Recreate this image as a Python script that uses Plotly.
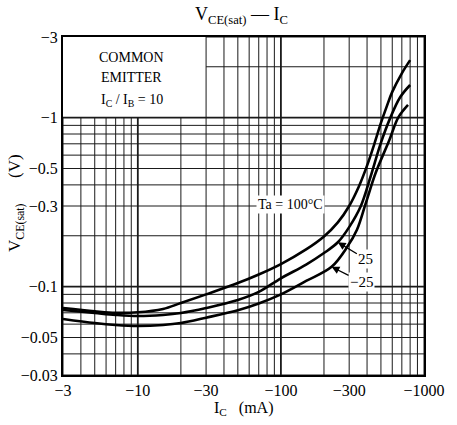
import math
import plotly.graph_objects as go

# ---------------- data (magnitudes; axis labels show negative values) ----------------
ic_100 = [3, 5, 7, 10, 15, 20, 30, 50, 70, 100, 150, 200, 250, 300, 350, 400, 450, 500, 550, 600, 700, 800]
vce_100 = [0.0747, 0.0715, 0.070, 0.0705, 0.0738, 0.080, 0.090, 0.105, 0.118, 0.136, 0.166,
           0.198, 0.240, 0.30, 0.39, 0.52, 0.70, 0.93, 1.17, 1.42, 1.83, 2.19]

ic_25 = [3, 5, 7, 10, 15, 20, 30, 50, 70, 100, 150, 200, 250, 300, 362, 424, 497, 582, 681, 800]
vce_25 = [0.0727, 0.0698, 0.068, 0.067, 0.068, 0.0698, 0.0747, 0.0833, 0.093, 0.112,
          0.135, 0.158, 0.183, 0.225, 0.30, 0.45, 0.70, 1.0, 1.32, 1.56]

ic_m25 = [3, 5, 7, 10, 15, 20, 30, 50, 70, 100, 150, 226, 291, 340, 392, 459, 573, 660, 773]
vce_m25 = [0.0644, 0.0609, 0.0593, 0.0585, 0.0593, 0.0609, 0.0655, 0.0725, 0.0795, 0.090,
           0.108, 0.131, 0.172, 0.217, 0.312, 0.47, 0.737, 1.0, 1.19]

x_ticks = [3, 10, 30, 100, 300, 1000]
x_ticktext = ["\u22123", "\u221210", "\u221230", "\u2212100", "\u2212300", "\u22121000"]
y_ticks = [0.03, 0.05, 0.1, 0.3, 0.5, 1, 3]
y_ticktext = ["\u22120.03", "\u22120.05", "\u22120.1", "\u22120.3", "\u22120.5", "\u22121", "\u22123"]

x_grid = [3, 4, 5, 6, 7, 8, 9, 10, 20, 30, 40, 50, 60, 70, 80, 90, 100,
          200, 300, 400, 500, 600, 700, 800, 900, 1000]
y_grid = [0.03, 0.04, 0.05, 0.06, 0.07, 0.08, 0.09, 0.1, 0.2, 0.3, 0.4, 0.5,
          0.6, 0.7, 0.8, 0.9, 1, 2, 3]

X_MIN, X_MAX = 3, 1000
Y_MIN, Y_MAX = 0.03, 3
BOX_X, BOX_Y = 30, 1   # legend box occupies x<30, y>1
MAJOR_X = (10, 100)
MAJOR_Y = (0.1, 1)

SERIF = "Liberation Serif, Times New Roman, serif"
L = math.log10

fig = go.Figure()

# ---------------- grid as line traces (data coordinates) ----------------
def grid_xy(major):
    xs, ys = [], []
    for gx in x_grid:
        if (gx in MAJOR_X) != major:
            continue
        top = Y_MAX if gx >= BOX_X else BOX_Y
        xs += [gx, gx, None]
        ys += [Y_MIN, top, None]
    for gy in y_grid:
        if (gy in MAJOR_Y) != major:
            continue
        left = BOX_X if gy > BOX_Y else X_MIN
        xs += [left, X_MAX, None]
        ys += [gy, gy, None]
    return xs, ys

for major, w in [(False, 1.0), (True, 1.8)]:
    gxs, gys = grid_xy(major)
    fig.add_trace(go.Scatter(x=gxs, y=gys, mode="lines", line=dict(color="#1a1a1a", width=w),
                             showlegend=False, hoverinfo="skip", connectgaps=False))

# ---------------- curves ----------------
for xs, ys in [(ic_100, vce_100), (ic_25, vce_25), (ic_m25, vce_m25)]:
    fig.add_trace(go.Scatter(x=xs, y=ys, mode="lines",
                             line=dict(color="black", width=2.6, shape="spline", smoothing=1.0),
                             showlegend=False, hoverinfo="skip"))

# ---------------- annotations ----------------
ann = []
for txt, yv in [("COMMON", 2.28), ("EMITTER", 1.72), ("I<sub>C</sub> / I<sub>B</sub> = 10", 1.27)]:
    ann.append(dict(x=L(9.06), y=L(yv), xref="x", yref="y", text=txt, showarrow=False,
                    font=dict(family=SERIF, size=14, color="black")))
ann.append(dict(x=L(116), y=L(0.305), xref="x", yref="y", text="Ta = 100\u00b0C",
                showarrow=False, bgcolor="white", font=dict(family=SERIF, size=14, color="black")))
ann.append(dict(x=L(250), y=L(0.183), xref="x", yref="y", text="25", bgcolor="white",
                showarrow=True, ax=28, ay=17, arrowhead=2, arrowsize=1.2, arrowwidth=1.3,
                arrowcolor="black", font=dict(family=SERIF, size=15, color="black")))
ann.append(dict(x=L(226), y=L(0.131), xref="x", yref="y", text="\u221225", bgcolor="white",
                showarrow=True, ax=30, ay=15, arrowhead=2, arrowsize=1.2, arrowwidth=1.3,
                arrowcolor="black", font=dict(family=SERIF, size=15, color="black")))
ann.append(dict(x=0.495, y=1.065, xref="paper", yref="paper", yanchor="middle", xanchor="center",
                text="V<sub>CE(sat)</sub> \u2014 I<sub>C</sub>", showarrow=False,
                font=dict(family=SERIF, size=18, color="black")))
ann.append(dict(x=0.5, y=-0.098, xref="paper", yref="paper", yanchor="middle", xanchor="center",
                text="I<sub>C</sub>   (mA)", showarrow=False,
                font=dict(family=SERIF, size=16, color="black")))
ann.append(dict(x=-0.13, y=0.509, xref="paper", yref="paper", yanchor="middle", xanchor="center",
                text="V<sub>CE(sat)</sub>      (V)", showarrow=False, textangle=-90,
                font=dict(family=SERIF, size=17, color="black")))

fig.update_layout(
    width=457, height=425,
    margin=dict(l=63, r=26, t=37, b=50),
    paper_bgcolor="white", plot_bgcolor="white",
    annotations=ann, showlegend=False,
    font=dict(family=SERIF, size=16, color="black"),
)
fig.update_xaxes(type="log", range=[L(X_MIN), L(X_MAX)], tickvals=x_ticks, ticktext=x_ticktext,
                 showgrid=False, zeroline=False, showline=True, linecolor="black", linewidth=2,
                 mirror=True, ticks="", tickfont=dict(family=SERIF, size=16, color="black"))
fig.update_yaxes(type="log", range=[L(Y_MIN), L(Y_MAX)], tickvals=y_ticks, ticktext=y_ticktext,
                 showgrid=False, zeroline=False, showline=True, linecolor="black", linewidth=2,
                 mirror=True, ticks="", tickfont=dict(family=SERIF, size=16, color="black"))

fig.write_html("out.html")
